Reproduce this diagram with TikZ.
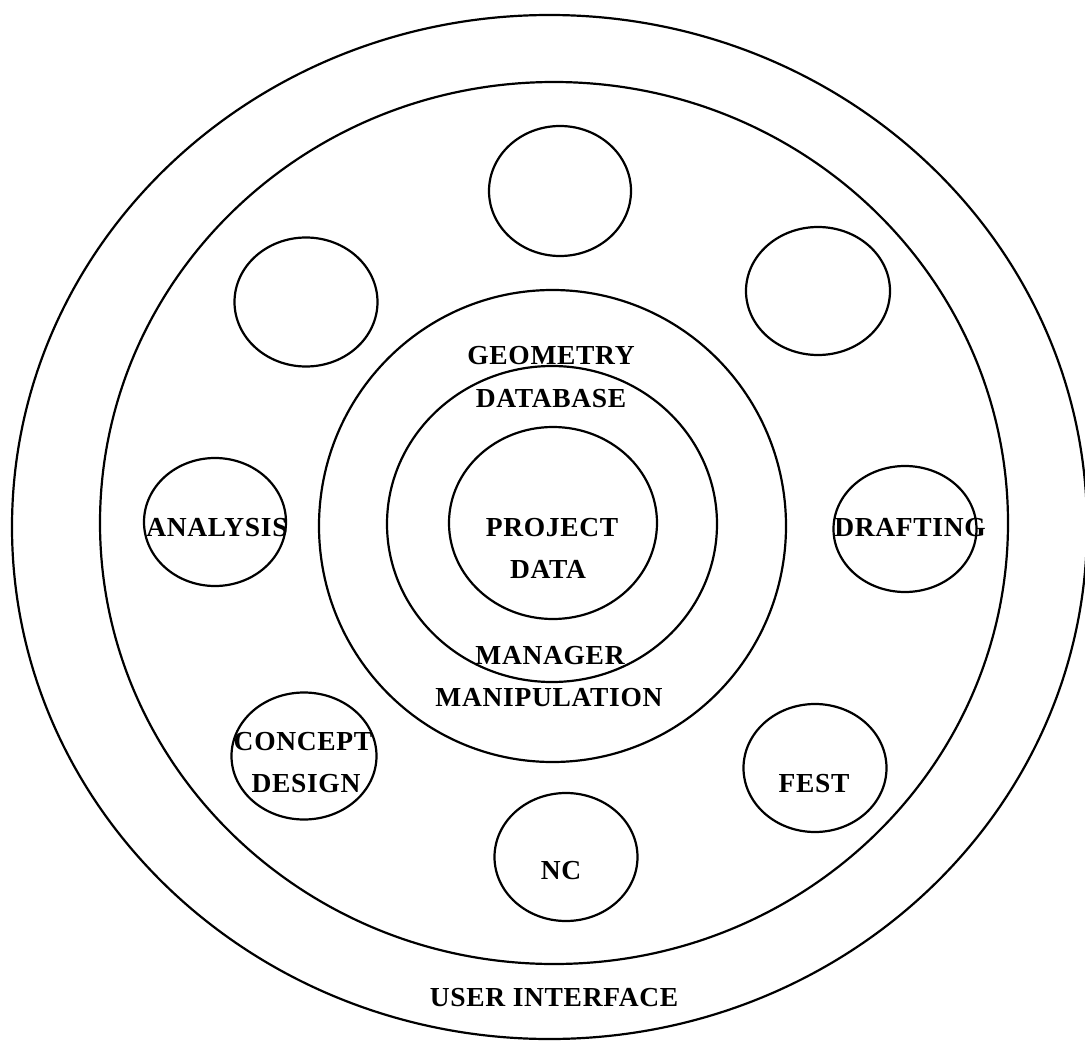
\documentclass[tikz,border=0pt]{standalone}
\usepackage{fontspec}
\setmainfont{Liberation Serif}
\newfontfamily\lblfont[LetterSpace=2.5]{Liberation Serif}
\usetikzlibrary{shapes.geometric}
\begin{document}
\begin{tikzpicture}[x=1pt,y=-1pt,
  ring/.style={draw, ellipse, line width=2.2pt, inner sep=0pt},
  lbl/.style={font=\lblfont\fontsize{27.5}{33}\selectfont\bfseries, anchor=base, inner sep=0pt}]
\useasboundingbox (0,0) rectangle (1085,1041);
\clip (0,0) rectangle (1085,1041);
\fill[white] (0,0) rectangle (1085,1041);
% concentric rings
\node[ring, minimum width=1075pt, minimum height=1024pt] (ui) at (549.5,527) {};
\node[ring, minimum width=908pt, minimum height=882pt] (apps) at (554,523) {};
\node[ring, minimum width=467pt, minimum height=472pt] (manip) at (552.5,526) {};
\node[ring, minimum width=330pt, minimum height=316pt] (geo) at (552,524) {};
\node[ring, minimum width=208pt, minimum height=192pt] (proj) at (553,523) {};
% application circles
\node[ring, minimum width=142pt, minimum height=130pt] (top) at (560,191) {};
\node[ring, minimum width=143pt, minimum height=129pt] (topleft) at (306,302) {};
\node[ring, minimum width=144pt, minimum height=128pt] (topright) at (818,291) {};
\node[ring, minimum width=142pt, minimum height=128pt] (analysis) at (215,522) {};
\node[ring, minimum width=143pt, minimum height=126pt] (drafting) at (905,529) {};
\node[ring, minimum width=145pt, minimum height=127pt] (concept) at (304,756) {};
\node[ring, minimum width=143pt, minimum height=128pt] (fest) at (815,768) {};
\node[ring, minimum width=143pt, minimum height=128pt] (nc) at (566,857) {};
% labels
\node[lbl] (tgeo1) at (551,364) {GEOMETRY};
\node[lbl] (tgeo2) at (551,407) {DATABASE};
\node[lbl] (tproj1) at (552,536) {PROJECT};
\node[lbl] (tproj2) at (548,578) {DATA};
\node[lbl] (tman1) at (550,664) {MANAGER};
\node[lbl] (tman2) at (549,706) {MANIPULATION};
\node[lbl] (tana) at (217,536) {ANALYSIS};
\node[lbl] (tdra) at (910,536) {DRAFTING};
\node[lbl] (tcon1) at (303,750) {CONCEPT};
\node[lbl] (tcon2) at (306,792) {DESIGN};
\node[lbl] (tfest) at (814,792) {FEST};
\node[lbl] (tnc) at (561,879) {NC};
\node[lbl] (tui) at (554,1006) {USER INTERFACE};
\end{tikzpicture}
\end{document}
